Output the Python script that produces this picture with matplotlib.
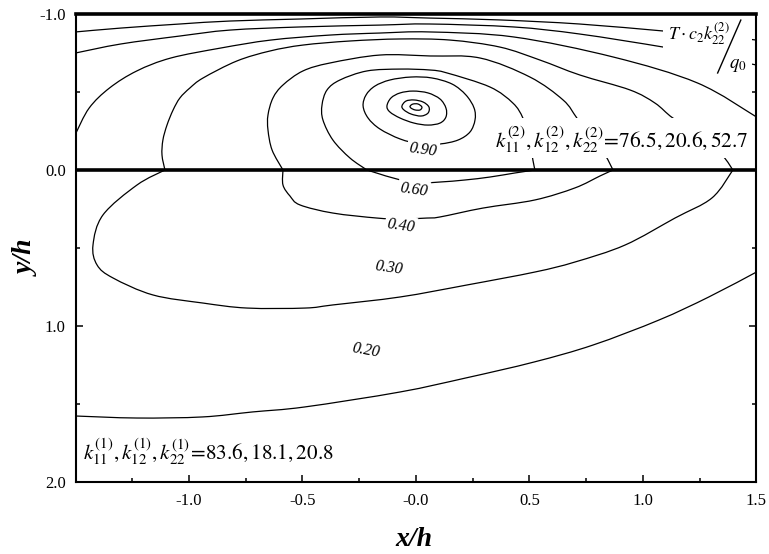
import matplotlib
matplotlib.use("Agg")
import matplotlib.pyplot as plt
from matplotlib.path import Path
from matplotlib.patches import PathPatch, Rectangle
from matplotlib.lines import Line2D
import numpy as np

plt.rcParams['font.family'] = ['Liberation Serif', 'DejaVu Serif']
plt.rcParams['mathtext.fontset'] = 'stix'

# ---------------- data ----------------
x_ticks = [-1.0, -0.5, 0.0, 0.5, 1.0, 1.5]
x_tick_labels = ['-1.0', '-0.5', '-0.0', '0.5', '1.0', '1.5']
x_minor = [-1.25, -0.75, -0.25, 0.25, 0.75, 1.25]
y_ticks = [-1.0, 0.0, 1.0, 2.0]
y_tick_labels = ['-1.0', '0.0', '1.0', '2.0']
y_minor = [-0.5, 0.5, 1.5]

# unlabeled outer isotherms near the top surface
cA_x = [-1.50, -1.30, -1.04, -0.82, -0.51, -0.16, 0.06, 0.37, 0.72, 1.09, 1.30, 1.50]
cA_y = [-0.885, -0.910, -0.936, -0.955, -0.968, -0.981, -0.974, -0.962, -0.936, -0.891, -0.865, -0.833]
cB_x = [-1.50, -1.30, -1.04, -0.82, -0.51, -0.16, 0.06, 0.43, 0.72, 1.09, 1.30, 1.50]
cB_y = [-0.750, -0.808, -0.859, -0.897, -0.917, -0.929, -0.936, -0.917, -0.872, -0.788, -0.731, -0.673]

# T = 0.20
c020_up_x = [-1.50, -1.44, -1.35, -1.23, -1.08, -0.86, -0.64, -0.38, -0.16, 0.06, 0.43, 0.87, 1.24, 1.50]
c020_up_y = [-0.231, -0.397, -0.526, -0.635, -0.718, -0.782, -0.833, -0.865, -0.878, -0.885, -0.853, -0.724, -0.558, -0.340]
c020_lo_x = [-1.50, -1.23, -0.94, -0.72, -0.49, -0.07, 0.22, 0.52, 0.78, 1.07, 1.29, 1.50]
c020_lo_y = [1.577, 1.590, 1.583, 1.551, 1.519, 1.423, 1.333, 1.231, 1.122, 0.962, 0.814, 0.654]

# T = 0.30
c030_up_x = [-1.106, -1.119, -1.115, -1.097, -1.070, -1.040, -0.996, -0.938, -0.789, -0.643, -0.498, -0.291,
             -0.070, 0.150, 0.370, 0.546, 0.722, 0.943, 1.053, 1.132, 1.256, 1.352, 1.396]
c030_up_y = [0.0, -0.096, -0.192, -0.288, -0.385, -0.462, -0.526, -0.590, -0.699, -0.763, -0.801, -0.827,
             -0.840, -0.833, -0.788, -0.705, -0.609, -0.513, -0.429, -0.333, -0.224, -0.090, 0.0]
c030_lo_x = [1.396, 1.304, 1.141, 0.921, 0.700, 0.524, 0.225, -0.070, -0.366, -0.489, -0.744, -0.938,
             -1.159, -1.335, -1.405, -1.423, -1.379, -1.229, -1.106]
c030_lo_y = [0.0, 0.179, 0.308, 0.481, 0.590, 0.654, 0.737, 0.814, 0.865, 0.885, 0.885, 0.853,
             0.801, 0.692, 0.609, 0.481, 0.288, 0.096, 0.0]

# T = 0.40
c040_up_x = [-0.586, -0.634, -0.652, -0.652, -0.630, -0.586, -0.498, -0.379, -0.159, 0.062, 0.282, 0.502,
             0.648, 0.709, 0.775, 0.833, 0.868]
c040_up_y = [0.0, -0.128, -0.256, -0.353, -0.462, -0.545, -0.635, -0.686, -0.737, -0.731, -0.718, -0.596,
             -0.449, -0.333, -0.205, -0.096, 0.0]
c040_lo_x = [0.868, 0.811, 0.700, 0.524, 0.295, 0.106, 0.048, -0.070, -0.172, -0.366, -0.511, -0.555, -0.586, -0.586]
c040_lo_y = [0.0, 0.038, 0.115, 0.192, 0.244, 0.301, 0.308, 0.314, 0.308, 0.276, 0.224, 0.167, 0.096, 0.0]

# T = 0.60
c060_up_x = [-0.216, -0.291, -0.366, -0.410, -0.414, -0.392, -0.335, -0.216, -0.070, 0.062, 0.137, 0.326,
             0.427, 0.471, 0.498, 0.515, 0.524]
c060_up_y = [0.0, -0.077, -0.192, -0.321, -0.417, -0.513, -0.577, -0.635, -0.647, -0.641, -0.622, -0.532,
             -0.429, -0.333, -0.205, -0.064, 0.0]
c060_lo_x = [0.524, 0.436, 0.326, 0.216, 0.106, -0.004, -0.101, -0.159, -0.216]
c060_lo_y = [0.0, 0.019, 0.045, 0.064, 0.077, 0.083, 0.051, 0.026, 0.0]

# T = 0.90 and inner closed isotherms around the source
c090_x = [-0.233, -0.220, -0.181, -0.115, -0.022, 0.070, 0.159, 0.220, 0.256, 0.260, 0.238, 0.185,
          0.106, 0.018, -0.070, -0.159, -0.211]
c090_y = [-0.410, -0.481, -0.538, -0.577, -0.596, -0.590, -0.551, -0.481, -0.397, -0.321, -0.244, -0.192,
          -0.167, -0.167, -0.199, -0.263, -0.333]
c3_x = [-0.128, -0.110, -0.070, -0.013, 0.053, 0.106, 0.132, 0.132, 0.106, 0.053, -0.009, -0.070, -0.115]
c3_y = [-0.410, -0.462, -0.494, -0.506, -0.494, -0.455, -0.397, -0.340, -0.301, -0.288, -0.301, -0.333, -0.372]
c2_x = [-0.062, -0.044, -0.009, 0.031, 0.057, 0.053, 0.022, -0.022, -0.053]
c2_y = [-0.410, -0.442, -0.449, -0.436, -0.404, -0.365, -0.346, -0.359, -0.385]
c1_x = [-0.026, -0.013, 0.009, 0.026, 0.018, -0.004, -0.022]
c1_y = [-0.410, -0.423, -0.423, -0.404, -0.385, -0.385, -0.397]

level_labels = ['0.90', '0.60', '0.40', '0.30', '0.20']
label_x = [0.031, -0.009, -0.066, -0.119, -0.220]
label_y = [-0.128, 0.128, 0.359, 0.628, 1.154]
label_rot = [-8, -8, -8, -8, -10]

k2_text = r'$k_{11}^{(2)},k_{12}^{(2)},k_{22}^{(2)}\!=\!76.5,20.6,52.7$'
k1_text = r'$k_{11}^{(1)},k_{12}^{(1)},k_{22}^{(1)}\!=\!83.6,18.1,20.8$'


def smooth_path(xs, ys, closed=False):
    """Catmull-Rom curve through the read points, drawn as cubic Bezier segments."""
    P = np.column_stack([xs, ys]).astype(float)
    n = len(P)
    verts = [P[0]]
    codes = [Path.MOVETO]
    nseg = n if closed else n - 1
    for i in range(nseg):
        if closed:
            p0, p1, p2, p3 = P[(i - 1) % n], P[i], P[(i + 1) % n], P[(i + 2) % n]
        else:
            p0 = P[max(i - 1, 0)]
            p1 = P[i]
            p2 = P[i + 1]
            p3 = P[min(i + 2, n - 1)]
        c1 = p1 + (p2 - p0) / 6.0
        c2 = p2 - (p3 - p1) / 6.0
        verts += [c1, c2, p2]
        codes += [Path.CURVE4] * 3
    return Path(np.array(verts), codes)


fig = plt.figure(figsize=(7.69, 5.54), dpi=100)
ax = fig.add_axes([0.0982, 0.1300, 0.8855, 0.8447])

ax.set_xlim(-1.5, 1.5)
ax.set_ylim(2.0, -1.0)

curves = [
    (cA_x, cA_y, False), (cB_x, cB_y, False),
    (c020_up_x, c020_up_y, False), (c020_lo_x, c020_lo_y, False),
    (c030_up_x, c030_up_y, False), (c030_lo_x, c030_lo_y, False),
    (c040_up_x, c040_up_y, False), (c040_lo_x, c040_lo_y, False),
    (c060_up_x, c060_up_y, False), (c060_lo_x, c060_lo_y, False),
    (c090_x, c090_y, True), (c3_x, c3_y, True), (c2_x, c2_y, True), (c1_x, c1_y, True),
]
for xs, ys, closed in curves:
    ax.add_patch(PathPatch(smooth_path(xs, ys, closed), fill=False, ec='black', lw=0.9, zorder=2))

# interface between the two materials
ax.axhline(0.0, color='black', lw=2.6, zorder=5)

# white backgrounds of the annotation texts
ax.add_patch(Rectangle((1.088, -0.974), 0.392, 0.320, fc='white', ec='none', zorder=3))
ax.add_patch(Rectangle((0.339, -0.333), 1.141, 0.253, fc='white', ec='none', zorder=3))

# contour level labels
for t, lx, ly, r in zip(level_labels, label_x, label_y, label_rot):
    ax.text(lx, ly, t, ha='center', va='center', rotation=r, fontsize=11.5, style='italic',
            zorder=6, bbox=dict(fc='white', ec='none', pad=1.5))

ax.text(0.350, -0.192, k2_text, ha='left', va='center', fontsize=15.4, zorder=6)
ax.text(-1.467, 1.808, k1_text, ha='left', va='center', fontsize=15.2, zorder=6)

# T c2 k22 / q0
ax.text(1.110, -0.872, r'$T\cdot c_2k_{22}^{(2)}$', ha='left', va='center', fontsize=13, zorder=6)
ax.text(1.418, -0.667, r'$q_0$', ha='center', va='center', fontsize=13.5, zorder=6)
ax.add_line(Line2D([0.943, 0.977], [0.874, 0.987], transform=ax.transAxes, color='black', lw=1.0, zorder=6))

# axes styling
for side in ['left', 'right', 'bottom']:
    ax.spines[side].set_linewidth(1.5)
ax.spines['top'].set_linewidth(2.6)

ax.set_xticks(x_ticks)
ax.set_xticklabels(x_tick_labels)
ax.set_xticks(x_minor, minor=True)
ax.set_yticks(y_ticks)
ax.set_yticklabels(y_tick_labels)
ax.set_yticks(y_minor, minor=True)
ax.tick_params(which='both', direction='in', top=False, right=True, labelsize=12, width=1.1)
ax.tick_params(which='major', length=5)
ax.tick_params(which='minor', length=3.2)
ax.tick_params(axis='x', pad=8)
ax.tick_params(axis='y', pad=7)

ax.set_xlabel('x/h', fontsize=20, fontweight='bold', style='italic')
ax.xaxis.set_label_coords(0.497, -0.096)
ax.set_ylabel('y/h', fontsize=20, fontweight='bold', style='italic')
ax.yaxis.set_label_coords(-0.052, 0.479)

fig.savefig('out.png', dpi=100)
